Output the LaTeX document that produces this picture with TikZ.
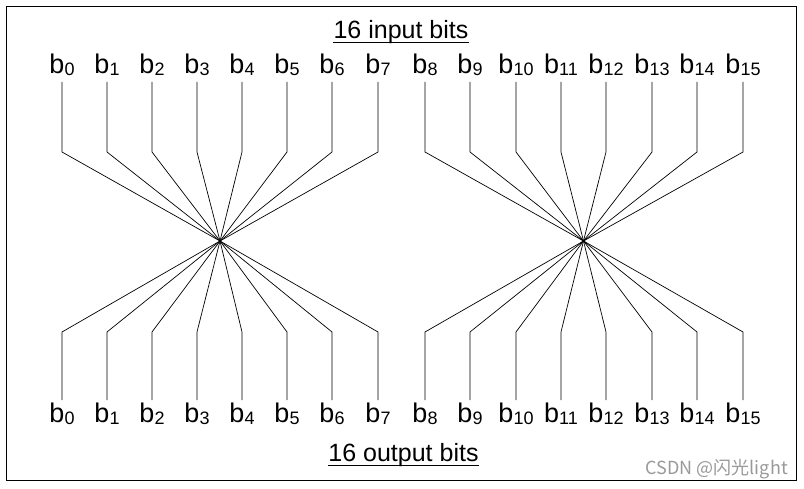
\documentclass[tikz,border=0pt]{standalone}
\usepackage{fontspec}
\setmainfont{Liberation Sans}
\newfontfamily\cjkfont{Noto Sans CJK SC}
\newcommand\subx[1]{\raisebox{-2pt}{\fontsize{18}{18}\selectfont #1}}
\tikzset{
  lbl/.style={anchor=base, inner sep=0pt, font=\fontsize{27}{27}\selectfont},
  ttl/.style={anchor=base, inner sep=0pt, font=\fontsize{25}{25}\selectfont},
  wire/.style={line width=0.7pt, black},
  frame/.style={line width=1.4pt, black},
}
\begin{document}
\begin{tikzpicture}[x=1pt,y=-1pt]
\useasboundingbox (0,0) rectangle (804,489);
\draw[frame] (6.5,6.5) rectangle (796.5,480.5);
% titles
\node[ttl] (tin) at (401,38.5) {16 input bits};
\node[ttl] (tout) at (403.5,461.5) {16 output bits};
\draw[line width=1.1pt] (tin.base west) ++(0,4) -- ([yshift=-4pt]tin.base east);
\draw[line width=1.1pt] (tout.base west) ++(0,4) -- ([yshift=-4pt]tout.base east);
% crossing centers
\coordinate (c1) at (220,241);
\coordinate (c2) at (583.5,241);
\foreach \x [count=\i from 0] in {62,107,152,197,242,287,332,378,425,470,516,561,606,652,697,743} {
  \node[lbl] (t\i) at (\x,74) {b\subx{\i}};
  \node[lbl] (u\i) at (\x,422) {b\subx{\i}};
  \coordinate (ta\i) at (\x,82);
  \coordinate (tb\i) at (\x,152);
  \coordinate (ua\i) at (\x,400);
  \coordinate (ub\i) at (\x,332);
}
\foreach \i in {0,...,7} {
  \draw[wire] (ta\i) -- (tb\i) -- (c1) -- (ub\i) -- (ua\i);
}
\foreach \i in {8,...,15} {
  \draw[wire] (ta\i) -- (tb\i) -- (c2) -- (ub\i) -- (ua\i);
}
\node[anchor=base east, inner sep=0pt, text=black!40, font=\cjkfont\fontsize{18}{18}\selectfont] (wm) at (788,474) {CSDN @闪光light};
\end{tikzpicture}
\end{document}
